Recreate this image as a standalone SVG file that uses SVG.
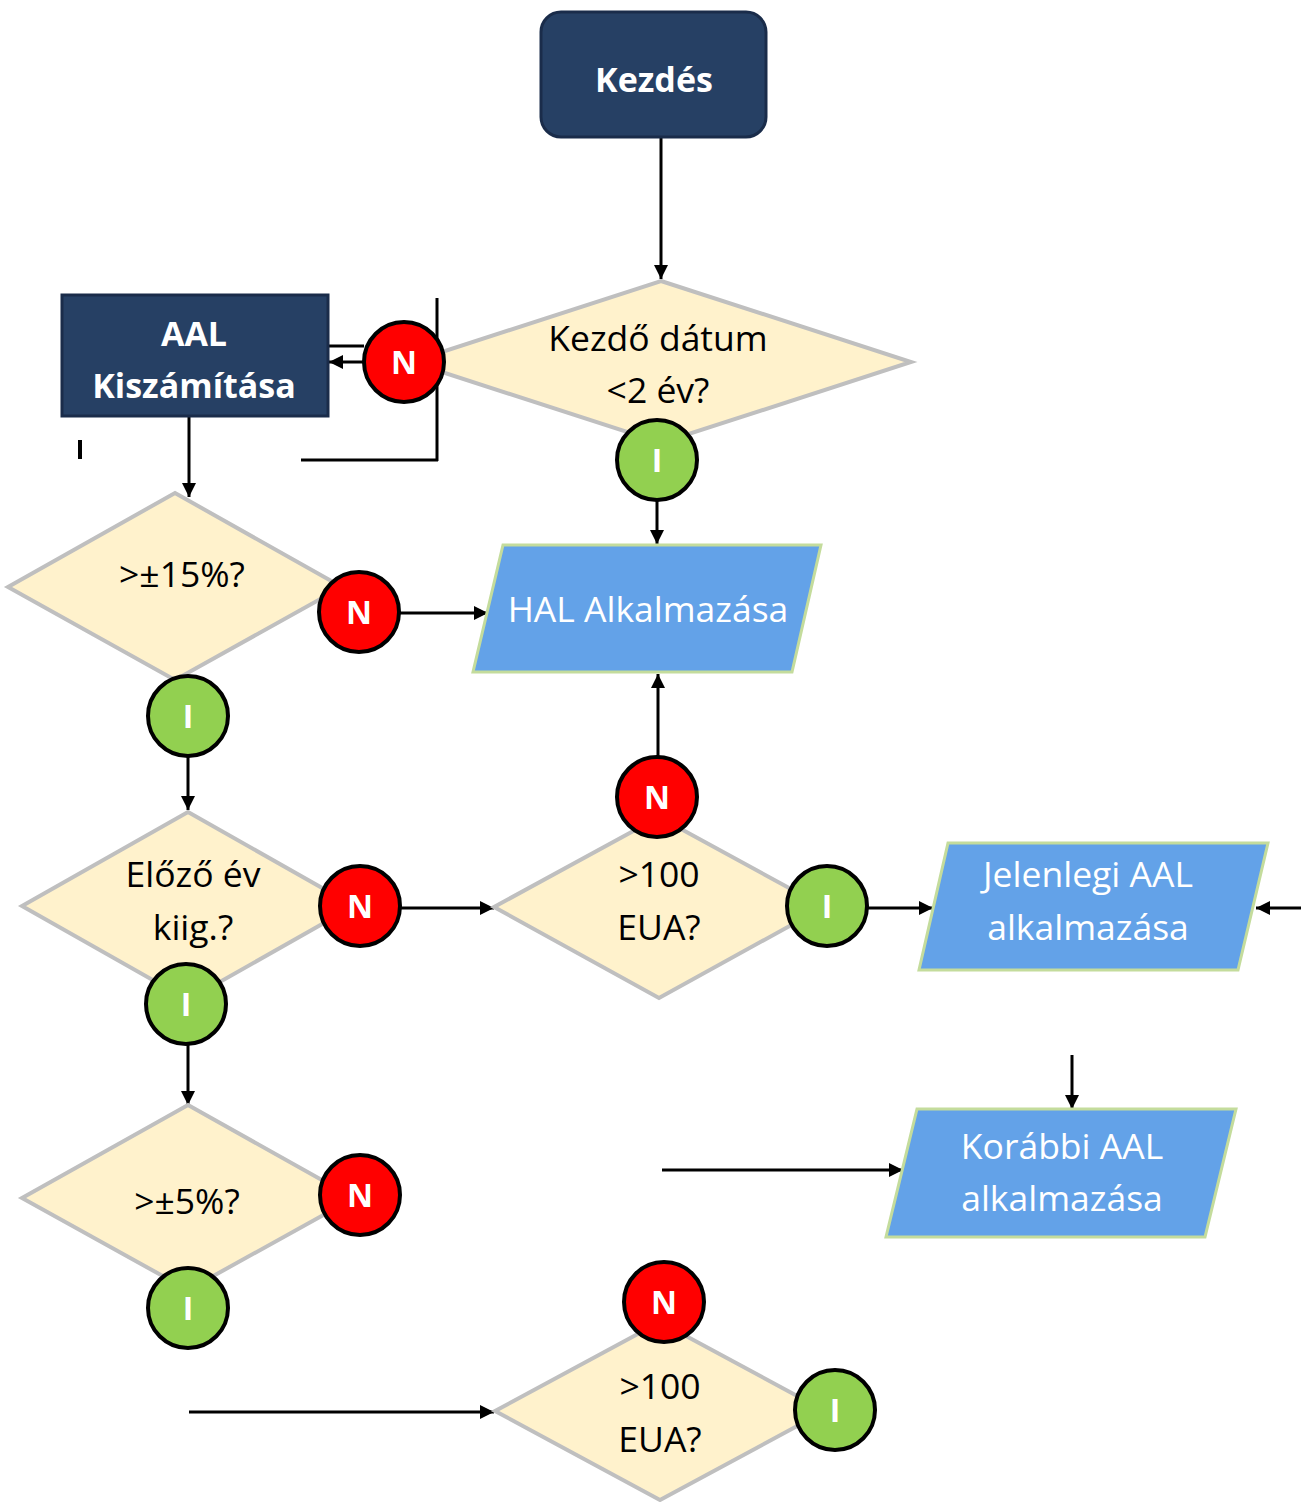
<svg xmlns="http://www.w3.org/2000/svg" width="1306" height="1502" viewBox="0 0 1306 1502">
<defs>
<marker id="ah" markerUnits="userSpaceOnUse" markerWidth="16" markerHeight="14" refX="14" refY="7" orient="auto">
<path d="M0,0 L14,7 L0,14 Z" fill="#000"/>
</marker>
<style>
.dk{fill:#264064;stroke:#1a2c4a;stroke-width:3}
.dec{fill:#fff2cc;stroke:#bfbfbf;stroke-width:4}
.io{fill:#63a2e8;stroke:#c4dc9c;stroke-width:3}
.no{fill:#ff0000;stroke:#000;stroke-width:4}
.yes{fill:#92d050;stroke:#000;stroke-width:4}
.ln{fill:none;stroke:#000;stroke-width:3}
.ar{fill:none;stroke:#000;stroke-width:3;marker-end:url(#ah)}
.t{font-family:"Open Sans","Liberation Sans",sans-serif;font-size:35.5px;text-anchor:middle;fill:#000}
.tw{font-family:"Open Sans","Liberation Sans",sans-serif;font-size:35.5px;text-anchor:middle;fill:#fff}
.tb{font-family:"Open Sans","Liberation Sans",sans-serif;font-size:34px;font-weight:bold;text-anchor:middle;fill:#fff}
.lb{font-family:"Open Sans","Liberation Sans",sans-serif;font-size:32px;font-weight:bold;text-anchor:middle;fill:#fff}
</style>
</defs>
<g id="connectors">
<line class="ar" x1="661" y1="137" x2="661" y2="279"/>
<line class="ln" x1="437" y1="298" x2="437" y2="461"/>
<line class="ln" x1="301" y1="460" x2="438" y2="460"/>
<line class="ln" x1="80" y1="440" x2="80" y2="459" style="stroke-width:4"/>
<line class="ln" x1="328" y1="346" x2="364" y2="346"/>
<line class="ar" x1="364" y1="362" x2="329" y2="362"/>
<line class="ar" x1="189" y1="416" x2="189" y2="497"/>
<line class="ar" x1="657" y1="500" x2="657" y2="544"/>
<line class="ar" x1="400" y1="613" x2="488" y2="613"/>
<line class="ar" x1="188" y1="756" x2="188" y2="810"/>
<line class="ar" x1="400" y1="908" x2="494" y2="908"/>
<line class="ar" x1="658" y1="757" x2="658" y2="674"/>
<line class="ar" x1="867" y1="908" x2="933" y2="908"/>
<line class="ar" x1="1301" y1="908" x2="1256" y2="908"/>
<line class="ar" x1="188" y1="1044" x2="188" y2="1105"/>
<line class="ar" x1="1072" y1="1055" x2="1072" y2="1109"/>
<line class="ar" x1="662" y1="1170" x2="903" y2="1170"/>
<line class="ar" x1="189" y1="1412" x2="494" y2="1412"/>
</g>
<g id="start">
<rect class="dk" x="541" y="12" width="225" height="125" rx="20"/>
<text class="tb" x="654" y="92">Kezdés</text>
</g>
<g id="aal-calc">
<rect class="dk" x="62" y="295" width="266" height="121"/>
<text class="tb" x="194" y="346">AAL</text>
<text class="tb" x="194" y="398">Kiszámítása</text>
</g>
<g id="dec-start-date">
<polygon class="dec" points="661,281 911,362 661,443 411,362"/>
<text class="t" x="658" y="351">Kezdő dátum</text>
<text class="t" x="658" y="403">&lt;2 év?</text>
</g>
<g id="dec-15">
<polygon class="dec" points="175,493 342,587 175,680 8,587"/>
<text class="t" x="182" y="587">&gt;±15%?</text>
</g>
<g id="hal">
<polygon class="io" points="503,545 821,545 792,672 473,672"/>
<text class="tw" x="648" y="622">HAL Alkalmazása</text>
</g>
<g id="dec-prev-year">
<polygon class="dec" points="188,812 354,906 188,1000 22,906"/>
<text class="t" x="193" y="887">Előző év</text>
<text class="t" x="193" y="940">kiig.?</text>
</g>
<g id="dec-100-a">
<polygon class="dec" points="659,817 824,907 659,998 494,907"/>
<text class="t" x="659" y="887">&gt;100</text>
<text class="t" x="659" y="940">EUA?</text>
</g>
<g id="current-aal">
<polygon class="io" points="948,843 1268,843 1238,970 919,970"/>
<text class="tw" x="1088" y="887">Jelenlegi AAL</text>
<text class="tw" x="1088" y="940">alkalmazása</text>
</g>
<g id="dec-5">
<polygon class="dec" points="188,1105 354,1198 188,1290 22,1198"/>
<text class="t" x="187" y="1214">&gt;±5%?</text>
</g>
<g id="prev-aal">
<polygon class="io" points="917,1109 1236,1109 1205,1237 886,1237"/>
<text class="tw" x="1062" y="1159">Korábbi AAL</text>
<text class="tw" x="1062" y="1211">alkalmazása</text>
</g>
<g id="dec-100-b">
<polygon class="dec" points="660,1322 825,1411 660,1500 495,1411"/>
<text class="t" x="660" y="1399">&gt;100</text>
<text class="t" x="660" y="1452">EUA?</text>
</g>
<g id="badges">
<g id="n1"><circle class="no" cx="404" cy="362" r="40"/><text class="lb" x="404" y="374">N</text></g>
<g id="i1"><circle class="yes" cx="657" cy="460" r="40"/><text class="lb" x="657" y="472">I</text></g>
<g id="n2"><circle class="no" cx="359" cy="612" r="40"/><text class="lb" x="359" y="624">N</text></g>
<g id="i2"><circle class="yes" cx="188" cy="716" r="40"/><text class="lb" x="188" y="728">I</text></g>
<g id="n3"><circle class="no" cx="360" cy="906" r="40"/><text class="lb" x="360" y="918">N</text></g>
<g id="n4"><circle class="no" cx="657" cy="797" r="40"/><text class="lb" x="657" y="809">N</text></g>
<g id="i4"><circle class="yes" cx="827" cy="906" r="40"/><text class="lb" x="827" y="918">I</text></g>
<g id="i3"><circle class="yes" cx="186" cy="1004" r="40"/><text class="lb" x="186" y="1016">I</text></g>
<g id="n5"><circle class="no" cx="360" cy="1195" r="40"/><text class="lb" x="360" y="1207">N</text></g>
<g id="i5"><circle class="yes" cx="188" cy="1308" r="40"/><text class="lb" x="188" y="1320">I</text></g>
<g id="n6"><circle class="no" cx="664" cy="1302" r="40"/><text class="lb" x="664" y="1314">N</text></g>
<g id="i6"><circle class="yes" cx="835" cy="1410" r="40"/><text class="lb" x="835" y="1422">I</text></g>
</g>
</svg>
